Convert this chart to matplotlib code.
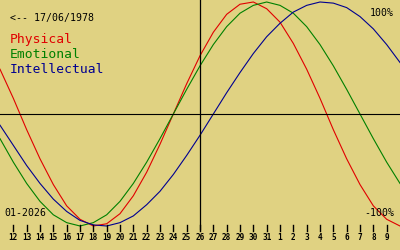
import numpy as np
from matplotlib import pyplot as plt
from matplotlib import transforms

# biorhythm for 17/06/1978, days 11 Jan .. 10 Feb 2026 (day index past 31 = February)
days = np.arange(11, 42)
physical = [0.40, 0.14, -0.14, -0.40, -0.63, -0.82, -0.94, -1.00, -0.98, -0.89,
            -0.73, -0.52, -0.27, 0.00, 0.27, 0.52, 0.73, 0.89, 0.98, 1.00,
            0.94, 0.82, 0.63, 0.40, 0.14, -0.14, -0.40, -0.63, -0.82, -0.94, -1.00]
emotional = [-0.22, -0.43, -0.62, -0.78, -0.90, -0.97, -1.00, -0.97, -0.90, -0.78,
             -0.62, -0.43, -0.22, 0.00, 0.22, 0.43, 0.62, 0.78, 0.90, 0.97,
             1.00, 0.97, 0.90, 0.78, 0.62, 0.43, 0.22, 0.00, -0.22, -0.43, -0.62]
intellectual = [-0.10, -0.28, -0.46, -0.62, -0.76, -0.87, -0.95, -0.99, -1.00, -0.97,
                -0.91, -0.81, -0.69, -0.54, -0.37, -0.19, 0.00, 0.19, 0.37, 0.54,
                0.69, 0.81, 0.91, 0.97, 1.00, 0.99, 0.95, 0.87, 0.76, 0.62, 0.46]
tick_days = np.arange(12, 41)
tick_labels = [str(d) for d in range(12, 32)] + [str(d) for d in range(1, 10)]
today = 26

bg = '#e0d282'
red, green, blue = '#e00000', '#008000', '#000090'
mono = 'DejaVu Sans Mono'

f = plt.figure(figsize=(4, 2.5), dpi=100, facecolor=bg)
ax = f.add_axes([0, 0, 1, 1])
ax.set_facecolor(bg)
ax.set_xlim(11, 41)
ax.set_ylim(-136/112, 114/112)
ax.axis('off')

def px(x, y):
    # pixel position -> axes fraction
    return x/400, 1 - y/250

# curves
ax.plot(days, physical, color=red, lw=0.8)
ax.plot(days, emotional, color=green, lw=0.8)
ax.plot(days, intellectual, color=blue, lw=0.8)

# zero line and today line
ax.axhline(0, color='black', lw=0.8)
trans = transforms.blended_transform_factory(ax.transData, ax.transAxes)
ax.plot([today, today], [px(0, 229)[1], 1], color='black', lw=0.9, transform=trans)

# ticks and labels
for d, lab in zip(tick_days, tick_labels):
    ax.plot([d, d], [px(0, 230.5)[1], px(0, 224.5)[1]], color='black', lw=1.0,
            transform=trans)
    ax.text(d, px(0, 240)[1], lab, transform=trans, ha='center', va='baseline',
            fontsize=5.6, fontweight='bold', family=mono, color='black')

# labels
ax.text(*px(10, 21), '<-- 17/06/1978', transform=ax.transAxes, fontsize=7.1,
        family=mono, color='black', va='baseline')
ax.text(*px(10, 43), 'Physical', transform=ax.transAxes, fontsize=9.4,
        family=mono, color=red, va='baseline')
ax.text(*px(10, 58), 'Emotional', transform=ax.transAxes, fontsize=9.4,
        family=mono, color=green, va='baseline')
ax.text(*px(10, 73), 'Intellectual', transform=ax.transAxes, fontsize=9.4,
        family=mono, color=blue, va='baseline')
ax.text(*px(4, 216), '01-2026', transform=ax.transAxes, fontsize=7.1,
        family=mono, color='black', va='baseline')
ax.text(*px(394, 16), '100%', transform=ax.transAxes, fontsize=7.1,
        family=mono, color='black', va='baseline', ha='right')
ax.text(*px(394, 216), '-100%', transform=ax.transAxes, fontsize=7.1,
        family=mono, color='black', va='baseline', ha='right')

f.savefig('out.png', dpi=100, facecolor=bg)
